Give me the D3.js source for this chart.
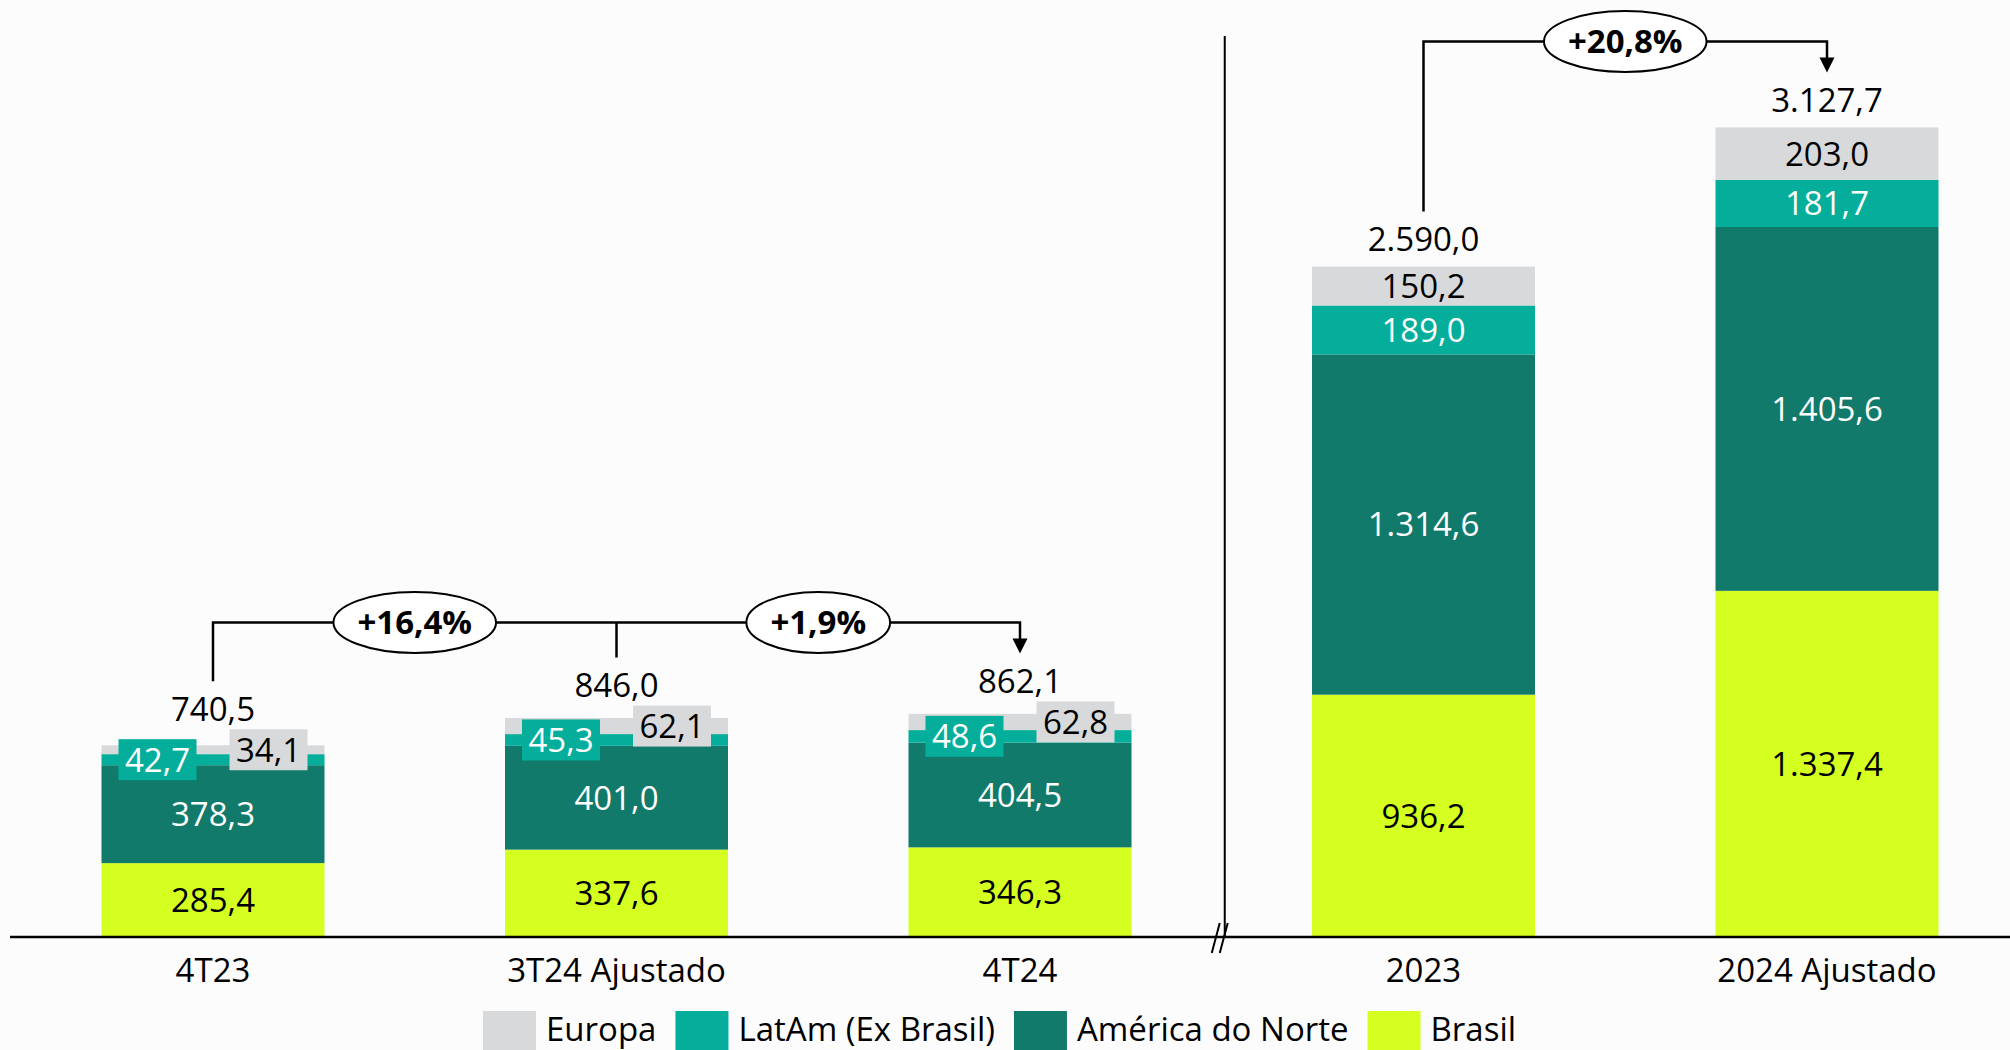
<!DOCTYPE html>
<html>
<head>
<meta charset="utf-8">
<script src="https://cdn.jsdelivr.net/npm/d3@7/dist/d3.min.js"></script>
<style>
  body { margin: 0; background: #fdfcfd; }
  svg { display: block; font-family: "Open Sans", sans-serif; }
</style>
</head>
<body>
<svg id="chart" width="2010" height="1050"></svg>
<script>
// data
var categories = ["4T23", "3T24 Ajustado", "4T24", "2023", "2024 Ajustado"];
var brasil = [285.4, 337.6, 346.3, 936.2, 1337.4];
var norte = [378.3, 401.0, 404.5, 1314.6, 1405.6];
var latam = [42.7, 45.3, 48.6, 189.0, 181.7];
var europa = [34.1, 62.1, 62.8, 150.2, 203.0];
var totals = [740.5, 846.0, 862.1, 2590.0, 3127.7];
var seriesNames = ["Europa", "LatAm (Ex Brasil)", "América do Norte", "Brasil"];
var growthLabels = ["+16,4%", "+1,9%", "+20,8%"];
var growthPairs = [[0, 1], [1, 2], [3, 4]];

var COLORS = { brasil: "#d5ff21", norte: "#117a6b", latam: "#04ae9a", europa: "#d7d9da" };
var TEXT_COLORS = { brasil: "#000", norte: "#fff", latam: "#fff", europa: "#000" };
var FONT = 33;
var BASE_Y = 937;

var svg = d3.select("#chart");
var W = +svg.attr("width");

var fmt = d3.formatLocale({ decimal: ",", thousands: ".", grouping: [3], currency: ["R$", ""] }).format(",.1f");

var rows = categories.map(function(c, i) {
  return { cat: c, brasil: brasil[i], norte: norte[i], latam: latam[i], europa: europa[i], total: totals[i] };
});
var keys = ["brasil", "norte", "latam", "europa"];
var stacked = d3.stack().keys(keys)(rows);

var x = d3.scaleBand().domain(categories).range([11.25, 2028.75]).paddingInner(0.4473).paddingOuter(0.22365);
var y = d3.scaleLinear().domain([0, 3620]).range([BASE_Y, 0]);

// bars
stacked.forEach(function(layer) {
  svg.append("g").selectAll("rect").data(layer).enter().append("rect")
    .attr("x", function(d) { return x(d.data.cat); })
    .attr("y", function(d) { return y(d[1]); })
    .attr("width", x.bandwidth())
    .attr("height", function(d) { return y(d[0]) - y(d[1]); })
    .attr("fill", COLORS[layer.key]);
});

// segment labels, small segments get a side box
var BOX_W = 78, BOX_H = 41, BOX_IN = 17;
var labelTop = categories.map(function(c) { return y(rows[categories.indexOf(c)].total); });
var hasBox = categories.map(function() { return false; });

stacked.forEach(function(layer) {
  layer.forEach(function(d, i) {
    var cy = (y(d[0]) + y(d[1])) / 2;
    var h = y(d[0]) - y(d[1]);
    var cx = x(d.data.cat) + x.bandwidth() / 2;
    if (h < 25) {
      var bx = layer.key === "latam" ? x(d.data.cat) + BOX_IN : x(d.data.cat) + x.bandwidth() - BOX_IN - BOX_W;
      svg.append("rect")
        .attr("x", bx).attr("y", cy - BOX_H / 2)
        .attr("width", BOX_W).attr("height", BOX_H)
        .attr("fill", COLORS[layer.key]);
      cx = bx + BOX_W / 2;
      hasBox[i] = true;
      labelTop[i] = Math.min(labelTop[i], cy - BOX_H / 2);
    }
    svg.append("text")
      .attr("x", cx).attr("y", cy).attr("dy", "0.36em")
      .attr("text-anchor", "middle")
      .attr("font-size", FONT)
      .attr("fill", TEXT_COLORS[layer.key])
      .text(fmt(d.data[layer.key]));
  });
});

// totals
var totalY = labelTop.map(function(t, i) { return hasBox[i] ? t - 20 : t - 27; });
svg.append("g").selectAll("text").data(rows).enter().append("text")
  .attr("x", function(d) { return x(d.cat) + x.bandwidth() / 2; })
  .attr("y", function(d, i) { return totalY[i]; })
  .attr("dy", "0.36em")
  .attr("text-anchor", "middle")
  .attr("font-size", FONT)
  .attr("fill", "#000")
  .text(function(d) { return fmt(d.total); });

// axis line + category labels
svg.append("line")
  .attr("x1", 10).attr("x2", W)
  .attr("y1", BASE_Y).attr("y2", BASE_Y)
  .attr("stroke", "#000").attr("stroke-width", 2.5);

svg.append("g").selectAll("text").data(categories).enter().append("text")
  .attr("x", function(d) { return x(d) + x.bandwidth() / 2; })
  .attr("y", BASE_Y + 33).attr("dy", "0.36em")
  .attr("text-anchor", "middle")
  .attr("font-size", FONT)
  .attr("fill", "#000")
  .text(function(d) { return d; });

// divider between quarters and years, with break marks
var cx = function(i) { return x(categories[i]) + x.bandwidth() / 2; };
var divX = (cx(2) + cx(3)) / 2 + 3;
svg.append("line")
  .attr("x1", divX).attr("x2", divX).attr("y1", 36).attr("y2", BASE_Y)
  .attr("stroke", "#000").attr("stroke-width", 2);
[-9, -1].forEach(function(off) {
  svg.append("line")
    .attr("x1", divX + off - 4).attr("y1", BASE_Y + 16)
    .attr("x2", divX + off + 4).attr("y2", BASE_Y - 14)
    .attr("stroke", "#000").attr("stroke-width", 2);
});

// growth brackets
var leaderEnd = totalY.map(function(t) { return t - 28; });
var groups = [[0, 1, 2], [3, 4]];
groups.forEach(function(g) {
  var by = d3.min(g, function(i) { return leaderEnd[i]; }) - 31;
  var first = g[0], last = g[g.length - 1];
  var path = d3.path();
  path.moveTo(cx(first), leaderEnd[first]);
  path.lineTo(cx(first), by);
  path.lineTo(cx(last), by);
  path.lineTo(cx(last), leaderEnd[last] - 14);
  g.slice(1, -1).forEach(function(i) {
    path.moveTo(cx(i), by);
    path.lineTo(cx(i), leaderEnd[i]);
  });
  svg.append("path").attr("d", path.toString())
    .attr("fill", "none").attr("stroke", "#000").attr("stroke-width", 2.5);
  var tip = leaderEnd[last];
  svg.append("path")
    .attr("d", "M" + (cx(last) - 7.5) + "," + (tip - 15) + "L" + (cx(last) + 7.5) + "," + (tip - 15) + "L" + cx(last) + "," + tip + "Z")
    .attr("fill", "#000");
  g.bracketY = by;
});

growthPairs.forEach(function(p, k) {
  var g = groups.filter(function(gr) { return gr.indexOf(p[0]) >= 0; })[0];
  var mx = (cx(p[0]) + cx(p[1])) / 2;
  var gEl = svg.append("g");
  var ell = gEl.append("ellipse")
    .attr("cx", mx).attr("cy", g.bracketY)
    .attr("ry", 30.5)
    .attr("fill", "#fff").attr("stroke", "#000").attr("stroke-width", 2);
  var t = gEl.append("text")
    .attr("x", mx).attr("y", g.bracketY).attr("dy", "0.36em")
    .attr("text-anchor", "middle")
    .attr("font-size", FONT).attr("font-weight", "bold")
    .attr("fill", "#000")
    .text(growthLabels[k]);
  ell.attr("rx", t.node().getComputedTextLength() / 2 + 24);
});

// legend
var legendColors = [COLORS.europa, COLORS.latam, COLORS.norte, COLORS.brasil];
var lx = 483;
seriesNames.forEach(function(name, i) {
  svg.append("rect")
    .attr("x", lx).attr("y", 1011)
    .attr("width", 53).attr("height", 45)
    .attr("fill", legendColors[i]);
  var t = svg.append("text")
    .attr("x", lx + 63).attr("y", 1029).attr("dy", "0.36em")
    .attr("font-size", FONT).attr("fill", "#000")
    .text(name);
  lx += 63 + t.node().getComputedTextLength() + 19;
});
</script>
</body>
</html>
